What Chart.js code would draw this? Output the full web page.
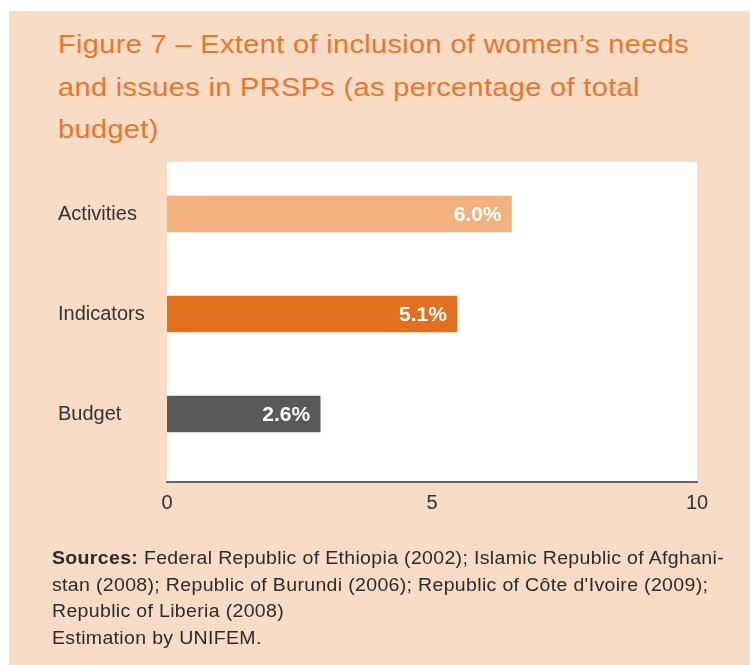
<!DOCTYPE html>
<html>
<head>
<meta charset="utf-8">
<script src="https://cdn.jsdelivr.net/npm/chart.js@4.4.1/dist/chart.umd.min.js"></script>
<style>
  html, body { margin: 0; padding: 0; background: #ffffff; }
  #wrap { position: relative; width: 750px; height: 665px; overflow: hidden; background: #ffffff; }
  #panel { position: absolute; left: 9px; top: 11px; width: 741px; height: 654px; background: #F9DCC5; }
  .txt span { display: block; white-space: nowrap; width: max-content; transform-origin: 0 50%; }
  #title { position: absolute; left: 58px; top: 23px; font-family: "Liberation Sans", Arial, sans-serif;
           font-size: 26.5px; line-height: 42.5px; letter-spacing: 0.3px; color: #E8772E; font-weight: normal; }
  #foot { position: absolute; left: 52px; top: 545px; font-family: "Liberation Sans", Arial, sans-serif;
          font-size: 17.5px; line-height: 26.7px; letter-spacing: 0.3px; color: #2b2b2b; }
  #foot b { font-weight: bold; }
  #cv { position: absolute; left: 0; top: 0; }
</style>
</head>
<body>
<div id="wrap">
  <div id="panel"></div>
  <div id="title" class="txt" data-w="631"><span>Figure 7 – Extent of inclusion of women’s needs</span><span>and issues in PRSPs (as percentage of total</span><span>budget)</span></div>
  <canvas id="cv" width="750" height="665"></canvas>
  <div id="foot" class="txt" data-w="672"><span><b>Sources:</b> Federal Republic of Ethiopia (2002); Islamic Republic of Afghani-</span><span>stan (2008); Republic of Burundi (2006); Republic of Côte d'Ivoire (2009);</span><span>Republic of Liberia (2008)</span><span>Estimation by UNIFEM.</span></div>
</div>
<script>
// fit text blocks horizontally to the reference line width
document.querySelectorAll('.txt').forEach(block => {
  const spans = block.querySelectorAll('span');
  const w = spans[0].getBoundingClientRect().width;
  const k = parseFloat(block.dataset.w) / w;
  spans.forEach(s => { s.style.transform = 'scaleX(' + k + ')'; });
});

const categories = ['Activities', 'Indicators', 'Budget'];
const barValues = [6.5, 5.47, 2.89];
const valueLabels = ['6.0%', '5.1%', '2.6%'];
const barColors = ['#F3B17F', '#E3701E', '#58595B'];
const xTicks = [0, 5, 10];

const FONT = '"Liberation Sans", Arial, sans-serif';

const plotBg = {
  id: 'plotBg',
  beforeDraw(chart) {
    const a = chart.chartArea, c = chart.ctx;
    c.save();
    c.fillStyle = '#ffffff';
    c.fillRect(a.left, a.top, a.right - a.left, a.bottom - a.top);
    c.restore();
  }
};

const barLabels = {
  id: 'barLabels',
  afterDatasetsDraw(chart) {
    const c = chart.ctx;
    const meta = chart.getDatasetMeta(0);
    c.save();
    c.font = 'bold 21px ' + FONT;
    c.fillStyle = '#ffffff';
    c.textAlign = 'right';
    c.textBaseline = 'middle';
    meta.data.forEach((el, i) => {
      c.fillText(valueLabels[i], el.x - 10, el.y + 1);
    });
    c.restore();
  }
};

new Chart(document.getElementById('cv'), {
  type: 'bar',
  data: {
    datasets: [{
      data: barValues.map((v, i) => ({ x: v, y: i })),
      backgroundColor: barColors,
      borderWidth: 0,
      barThickness: 36
    }]
  },
  options: {
    indexAxis: 'y',
    responsive: false,
    animation: false,
    events: [],
    layout: { padding: { left: 58, right: 53, top: 162, bottom: 143 } },
    plugins: { legend: { display: false }, tooltip: { enabled: false }, title: { display: false } },
    scales: {
      x: {
        type: 'linear',
        min: 0, max: 10,
        afterBuildTicks(s) { s.ticks = xTicks.map(v => ({ value: v })); },
        afterFit(s) { s.height = 40; },
        grid: { display: false, drawTicks: false },
        border: { display: true, color: '#666666', width: 2 },
        ticks: { color: '#333333', font: { family: FONT, size: 20 }, padding: 9 }
      },
      y: {
        type: 'linear',
        reverse: true,
        offset: false,
        min: -0.52, max: 2.68,
        afterBuildTicks(s) { s.ticks = categories.map((c, i) => ({ value: i })); },
        afterFit(s) { s.width = 109; },
        grid: { display: false, drawTicks: false, offset: false },
        border: { display: false },
        ticks: {
          color: '#333333',
          font: { family: FONT, size: 20 },
          crossAlign: 'far',
          callback: (v) => categories[v] !== undefined ? categories[v] : ''
        }
      }
    }
  },
  plugins: [plotBg, barLabels]
});
</script>
</body>
</html>
